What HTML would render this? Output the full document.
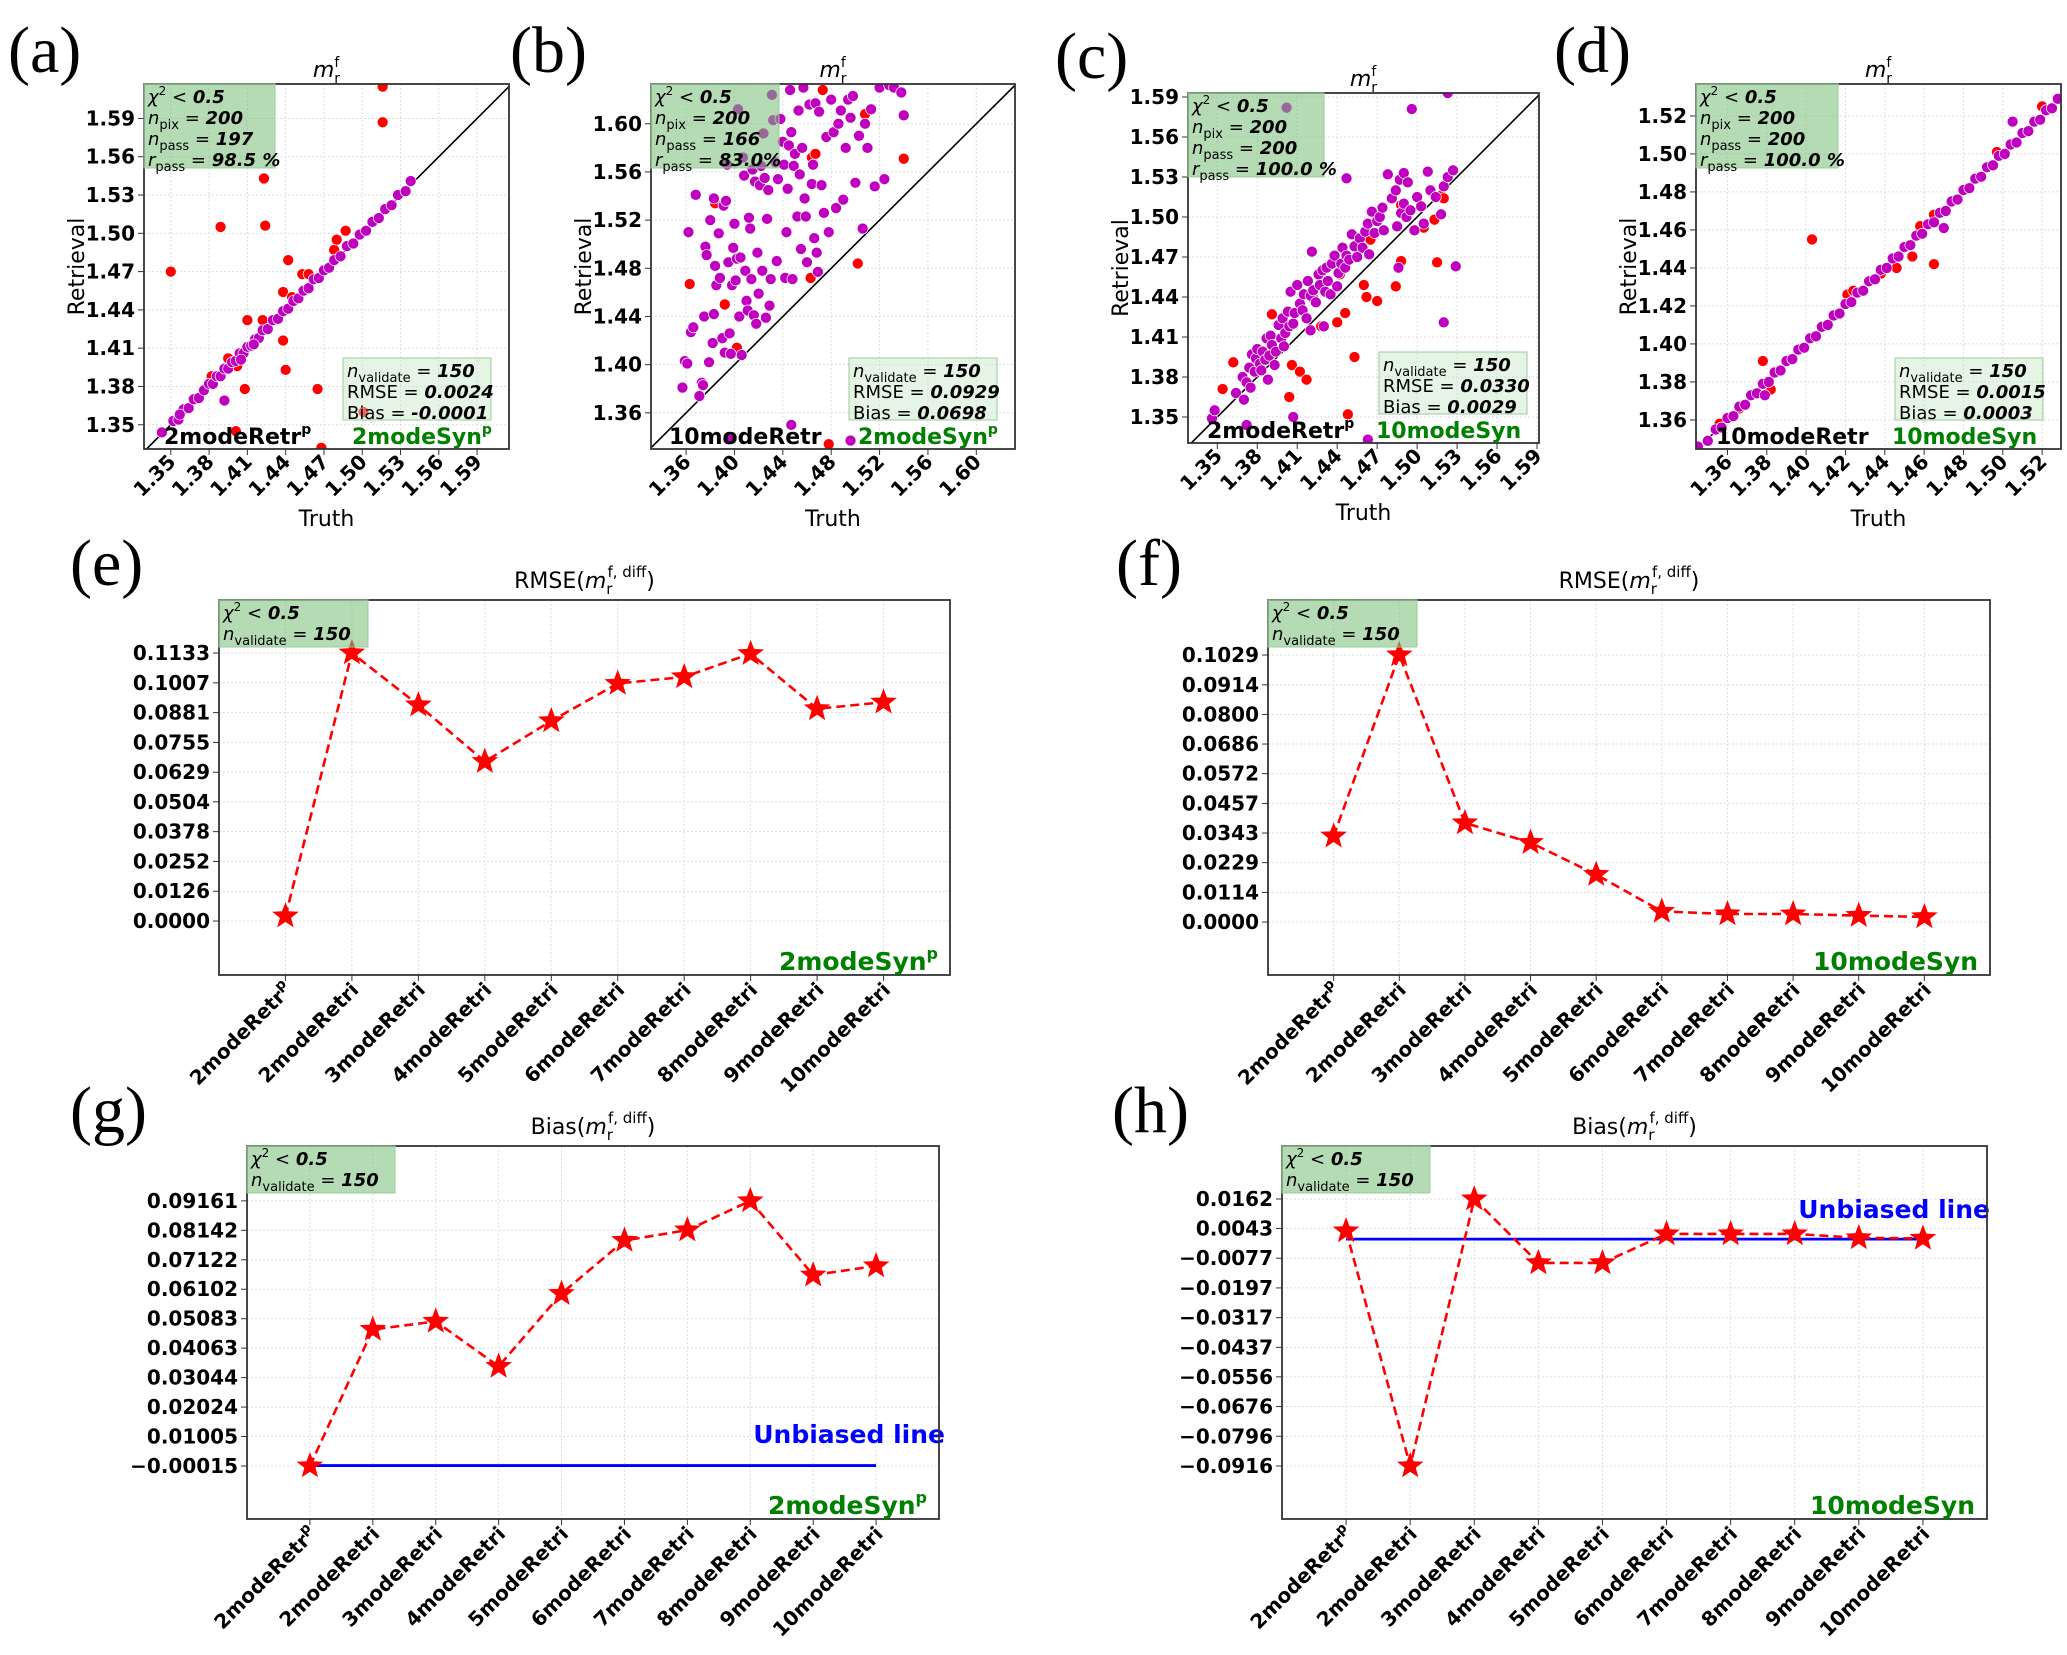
<!DOCTYPE html>
<html><head><meta charset="utf-8"><style>
html,body{margin:0;padding:0;background:#fff}
svg{display:block;font-family:"DejaVu Sans","Liberation Sans",sans-serif}
.tk{font-weight:bold;font-size:20px}
.cat{font-weight:bold;font-size:20px}
.lab{font-size:22px}
.pl{font-family:"Liberation Serif","DejaVu Serif",serif;font-size:66px}
.box{font-size:18px}
</style></head><body>
<svg id="fig" width="2067" height="1655" viewBox="0 0 2067 1655" xmlns="http://www.w3.org/2000/svg"></svg>
<script>
// ---------- scatter data ----------
const aPurpleTruth=[1.343,1.352,1.356,1.360,1.364,1.368,1.372,1.376,1.380,1.383,1.386,1.389,1.392,1.395,1.398,1.401,1.404,1.407,1.410,1.413,1.416,1.419,1.422,1.426,1.430,1.434,1.438,1.442,1.446,1.450,1.454,1.458,1.462,1.466,1.470,1.474,1.478,1.483,1.488,1.493,1.498,1.503,1.508,1.513,1.518,1.523,1.528,1.534,1.538,1.392,1.357,1.405,1.415];
const aPurpleRetr=[1.344,1.353,1.354,1.362,1.363,1.370,1.371,1.377,1.382,1.382,1.388,1.388,1.394,1.394,1.399,1.400,1.406,1.406,1.411,1.412,1.417,1.418,1.424,1.425,1.432,1.433,1.439,1.441,1.447,1.449,1.455,1.457,1.464,1.465,1.471,1.473,1.479,1.482,1.490,1.492,1.499,1.502,1.509,1.512,1.519,1.522,1.530,1.533,1.541,1.369,1.358,1.401,1.413];
const aRedTruth=[1.350,1.516,1.516,1.423,1.389,1.424,1.442,1.410,1.438,1.440,1.408,1.465,1.501,1.401,1.402,1.453,1.458,1.468,1.438,1.478,1.480,1.487,1.445,1.360,1.422,1.382,1.395];
const aRedRetr=[1.470,1.587,1.615,1.543,1.505,1.506,1.479,1.432,1.416,1.393,1.378,1.378,1.360,1.345,1.396,1.468,1.468,1.332,1.454,1.487,1.495,1.502,1.450,1.362,1.432,1.388,1.402];

const bPurpleTruth=[1.357,1.359,1.361,1.362,1.364,1.366,1.368,1.371,1.373,1.374,1.375,1.376,1.377,1.379,1.380,1.382,1.383,1.383,1.384,1.385,1.387,1.388,1.390,1.391,1.392,1.393,1.394,1.395,1.396,1.397,1.398,1.399,1.400,1.401,1.402,1.403,1.404,1.405,1.406,1.407,1.408,1.409,1.410,1.411,1.412,1.413,1.414,1.415,1.416,1.417,1.418,1.419,1.420,1.421,1.422,1.423,1.424,1.425,1.426,1.427,1.428,1.429,1.430,1.431,1.432,1.434,1.435,1.436,1.438,1.440,1.441,1.442,1.443,1.444,1.445,1.446,1.447,1.448,1.449,1.450,1.452,1.453,1.454,1.455,1.456,1.457,1.458,1.459,1.460,1.462,1.464,1.465,1.466,1.467,1.468,1.469,1.470,1.472,1.474,1.476,1.478,1.480,1.482,1.484,1.486,1.488,1.490,1.492,1.494,1.496,1.498,1.500,1.503,1.506,1.508,1.510,1.513,1.516,1.520,1.524,1.528,1.532,1.538,1.540,1.447,1.395,1.496];
const bPurpleRetr=[1.381,1.403,1.401,1.510,1.427,1.431,1.541,1.374,1.385,1.383,1.440,1.498,1.491,1.402,1.520,1.418,1.442,1.538,1.482,1.466,1.509,1.472,1.422,1.532,1.410,1.536,1.566,1.485,1.426,1.409,1.466,1.497,1.517,1.470,1.488,1.612,1.440,1.489,1.408,1.572,1.557,1.478,1.453,1.445,1.522,1.513,1.471,1.562,1.441,1.552,1.434,1.493,1.459,1.549,1.565,1.478,1.592,1.555,1.439,1.521,1.545,1.449,1.471,1.624,1.603,1.568,1.486,1.554,1.604,1.585,1.566,1.472,1.510,1.546,1.582,1.628,1.593,1.471,1.565,1.575,1.523,1.611,1.558,1.496,1.580,1.630,1.538,1.523,1.485,1.616,1.550,1.566,1.505,1.617,1.493,1.477,1.610,1.549,1.526,1.589,1.510,1.620,1.593,1.530,1.600,1.611,1.537,1.580,1.620,1.605,1.623,1.551,1.590,1.513,1.600,1.580,1.612,1.548,1.630,1.554,1.632,1.630,1.626,1.607,1.350,1.338,1.337];
const bRedTruth=[1.363,1.384,1.392,1.402,1.464,1.467,1.463,1.502,1.508,1.540,1.473,1.478];
const bRedRetr=[1.467,1.534,1.450,1.414,1.572,1.575,1.472,1.484,1.608,1.571,1.628,1.334];

const cPurpleTruth=[1.346,1.348,1.364,1.369,1.370,1.372,1.374,1.375,1.376,1.378,1.379,1.380,1.382,1.383,1.384,1.386,1.387,1.388,1.389,1.390,1.391,1.393,1.394,1.396,1.398,1.399,1.400,1.401,1.403,1.404,1.405,1.407,1.408,1.410,1.412,1.414,1.415,1.417,1.418,1.420,1.421,1.422,1.424,1.426,1.427,1.429,1.431,1.432,1.433,1.435,1.436,1.438,1.440,1.441,1.443,1.444,1.446,1.447,1.449,1.451,1.453,1.455,1.457,1.459,1.461,1.463,1.464,1.466,1.468,1.470,1.472,1.474,1.475,1.478,1.481,1.484,1.487,1.486,1.490,1.493,1.485,1.488,1.490,1.492,1.495,1.498,1.500,1.503,1.505,1.508,1.510,1.514,1.518,1.520,1.523,1.527,1.529,1.520,1.496,1.402,1.523,1.447,1.407,1.372,1.463,1.420,1.430];
const cPurpleRetr=[1.349,1.355,1.368,1.380,1.363,1.376,1.387,1.372,1.397,1.384,1.394,1.401,1.390,1.385,1.399,1.393,1.409,1.378,1.396,1.411,1.404,1.389,1.399,1.419,1.409,1.424,1.403,1.413,1.429,1.418,1.444,1.420,1.428,1.449,1.435,1.430,1.442,1.424,1.452,1.441,1.474,1.445,1.436,1.457,1.449,1.460,1.444,1.462,1.452,1.442,1.465,1.471,1.448,1.458,1.465,1.477,1.462,1.471,1.468,1.487,1.478,1.470,1.484,1.477,1.489,1.495,1.472,1.504,1.488,1.497,1.500,1.507,1.490,1.532,1.514,1.520,1.528,1.462,1.533,1.526,1.493,1.503,1.510,1.500,1.505,1.490,1.515,1.508,1.495,1.534,1.520,1.515,1.502,1.523,1.530,1.535,1.463,1.421,1.581,1.582,1.593,1.529,1.350,1.344,1.333,1.415,1.418];
const cRedTruth=[1.354,1.362,1.391,1.404,1.406,1.412,1.417,1.422,1.428,1.440,1.442,1.446,1.448,1.453,1.460,1.465,1.470,1.484,1.488,1.488,1.505,1.513,1.518,1.520,1.462,1.515];
const cRedRetr=[1.371,1.391,1.427,1.365,1.389,1.384,1.378,1.439,1.418,1.421,1.457,1.428,1.352,1.395,1.449,1.483,1.437,1.448,1.467,1.509,1.492,1.498,1.516,1.514,1.440,1.466];

const dPurpleTruth=[1.345,1.350,1.354,1.357,1.360,1.363,1.366,1.369,1.372,1.375,1.378,1.381,1.384,1.387,1.390,1.393,1.396,1.399,1.402,1.405,1.408,1.411,1.414,1.417,1.420,1.423,1.426,1.429,1.432,1.435,1.438,1.441,1.444,1.447,1.450,1.453,1.456,1.459,1.462,1.465,1.468,1.471,1.474,1.477,1.480,1.483,1.486,1.489,1.492,1.495,1.498,1.501,1.504,1.507,1.510,1.513,1.516,1.519,1.522,1.525,1.528,1.379,1.470,1.505];
const dPurpleRetr=[1.346,1.349,1.355,1.356,1.361,1.362,1.367,1.368,1.373,1.374,1.379,1.380,1.385,1.386,1.391,1.392,1.397,1.398,1.403,1.404,1.409,1.410,1.415,1.416,1.421,1.422,1.427,1.428,1.433,1.434,1.439,1.440,1.445,1.446,1.451,1.452,1.457,1.458,1.463,1.464,1.469,1.470,1.475,1.476,1.481,1.482,1.487,1.488,1.493,1.494,1.499,1.500,1.505,1.506,1.511,1.512,1.517,1.518,1.523,1.524,1.529,1.373,1.461,1.517];
const dRedTruth=[1.403,1.465,1.378,1.382,1.465,1.458,1.356,1.366,1.421,1.424,1.438,1.446,1.454,1.497,1.520,1.405];
const dRedRetr=[1.455,1.442,1.391,1.376,1.468,1.462,1.358,1.366,1.426,1.428,1.437,1.440,1.446,1.501,1.525,1.404];

const ticksAC=["1.35","1.38","1.41","1.44","1.47","1.50","1.53","1.56","1.59"];
const ticksB=["1.36","1.40","1.44","1.48","1.52","1.56","1.60"];
const ticksD=["1.36","1.38","1.40","1.42","1.44","1.46","1.48","1.50","1.52"];

// ---------- line chart data ----------
const categories=["2modeRetr^p","2modeRetri","3modeRetri","4modeRetri","5modeRetri","6modeRetri","7modeRetri","8modeRetri","9modeRetri","10modeRetri"];
const rmseE=[0.0021,0.1133,0.0913,0.0674,0.0846,0.1004,0.1032,0.1130,0.0897,0.0925];
const rmseF=[0.0331,0.1029,0.0382,0.0306,0.0183,0.0041,0.0031,0.0031,0.0025,0.0020];
const biasG=[-0.00015,0.0471,0.0499,0.0343,0.0595,0.0779,0.0815,0.0916,0.0659,0.0691];
const biasH=[0.0033,-0.0916,0.0162,-0.0096,-0.0096,0.0021,0.0021,0.0021,0.0005,0.0003];
const ticksE=["0.0000","0.0126","0.0252","0.0378","0.0504","0.0629","0.0755","0.0881","0.1007","0.1133"];
const ticksF=["0.0000","0.0114","0.0229","0.0343","0.0457","0.0572","0.0686","0.0800","0.0914","0.1029"];
const ticksG=["-0.00015","0.01005","0.02024","0.03044","0.04063","0.05083","0.06102","0.07122","0.08142","0.09161"];
const ticksH=["-0.0916","-0.0796","-0.0676","-0.0556","-0.0437","-0.0317","-0.0197","-0.0077","0.0043","0.0162"];
const unbiased=0;

const NS="http://www.w3.org/2000/svg";
const svg=document.getElementById('fig');
function el(tag,attrs,parent,txt){const e=document.createElementNS(NS,tag);for(const k in attrs)e.setAttribute(k,attrs[k]);if(txt!==undefined)e.innerHTML=txt;(parent||svg).appendChild(e);return e;}
function lin(d0,d1,r0,r1){return v=>r0+(v-d0)/(d1-d0)*(r1-r0);}

function panelLabel(t,x,y,name){const e=el('text',{x:x,y:y,class:'pl'},svg,t);

}

function frame(g,c){const r=el('rect',{x:c.x0,y:c.y0,width:c.x1-c.x0,height:c.y1-c.y0,fill:'none',stroke:'#333','stroke-width':1.8},g);

}

function infoBox(g,x,y,w,h,fill,lines,name){
 const b=el('rect',{x:x,y:y,width:w,height:h,fill:fill,stroke:'#9c9','stroke-width':1},g);
 
 
 lines.forEach((l,i)=>{const t=el('text',{x:x+4,y:y+19+i*21,class:'box'},g,l);
 
 });
}
const V=v=>`<tspan font-weight="bold" font-style="italic">${v}</tspan>`;
const SUB=s=>`<tspan font-size="13" dy="5">${s}</tspan><tspan dy="-5"> </tspan>`;
const CHI=`<tspan font-style="italic">χ</tspan><tspan font-size="12" dy="-8">2</tspan><tspan dy="8"> &lt; </tspan>`;

function scatter(c){
 const g=el('g',{},svg);
 
 
 const X=lin(c.xd[0],c.xd[1],c.x0,c.x1), Y=lin(c.yd[0],c.yd[1],c.y1,c.y0);
 const clip=el('clipPath',{id:'cl'+c.name},g);el('rect',{x:c.x0,y:c.y0,width:c.x1-c.x0,height:c.y1-c.y0},clip);
 c.ticks.forEach(t=>{const v=parseFloat(t);
  const gx=el('line',{x1:X(v),x2:X(v),y1:c.y0,y2:c.y1,stroke:'#ddd','stroke-dasharray':'2,2'},g);
  
  if(Y(v)>=c.y0&&Y(v)<=c.y1){const gy=el('line',{x1:c.x0,x2:c.x1,y1:Y(v),y2:Y(v),stroke:'#ddd','stroke-dasharray':'2,2'},g);
  
  el('line',{x1:c.x0-6,x2:c.x0,y1:Y(v),y2:Y(v),stroke:'#333'},g);
  const yl=el('text',{x:c.x0-9,y:Y(v)+7,'text-anchor':'end',class:'tk'},g,t);
  }
  el('line',{x1:X(v),x2:X(v),y1:c.y1,y2:c.y1+6,stroke:'#333'},g);
  const xl=el('text',{x:0,y:0,'text-anchor':'end',class:'tk',transform:`translate(${X(v)+6},${c.y1+14}) rotate(-45)`},g,t);
  
 });
 const pg=el('g',{'clip-path':`url(#cl${c.name})`},g);
 const lo=Math.max(c.xd[0],c.yd[0]),hi=Math.min(c.xd[1],c.yd[1]);
 const dl=el('line',{x1:X(lo),y1:Y(lo),x2:X(hi),y2:Y(hi),stroke:'#000','stroke-width':1.6},pg);
 
 c.rt.forEach((t,i)=>{const p=el('circle',{cx:X(t),cy:Y(c.rr[i]),r:5.5,fill:'#ff0000',stroke:'#fff','stroke-width':0.7},pg);
  });
 c.pt.forEach((t,i)=>{const p=el('circle',{cx:X(t),cy:Y(c.pr[i]),r:5.5,fill:'#bf00bf',stroke:'#fff','stroke-width':0.7},pg);
  });
 frame(g,c);
 const tt=el('text',{x:(c.x0+c.x1)/2,y:c.y0-7,'text-anchor':'middle',class:'lab'},g,`<tspan font-style="italic">m</tspan><tspan font-size="14" dy="-10">f</tspan><tspan font-size="14" dx="-5" dy="16">r</tspan>`);
 
 const yl=el('text',{x:0,y:0,'text-anchor':'middle',class:'lab',transform:`translate(${c.x0-60},${(c.y0+c.y1)/2}) rotate(-90)`},g,'Retrieval');
 
 const xl=el('text',{x:(c.x0+c.x1)/2,y:c.y1+77,'text-anchor':'middle',class:'lab'},g,'Truth');
 
 infoBox(g,c.x0,c.y0,c.bw,84,'rgba(120,190,120,0.55)',[CHI+V('0.5'),`<tspan font-style="italic">n</tspan>${SUB('pix')}= `+V('200'),`<tspan font-style="italic">n</tspan>${SUB('pass')}= `+V(c.npass),`<tspan font-style="italic">r</tspan>${SUB('pass')}= `+V(c.rpass)],'stats-box');
 infoBox(g,c.bx,c.y1-91,148,62,'rgba(200,230,200,0.45)',[`<tspan font-style="italic">n</tspan>${SUB('validate')}= `+V('150'),'RMSE = '+V(c.rmse),'Bias = '+V(c.bias)],'metrics-box');
 const l1=el('text',{x:c.x0+c.l1x,y:c.y1-5,'font-weight':'bold','font-size':22},g,c.l1);
 
 const l2=el('text',{x:c.x0+c.l2x,y:c.y1-5,'font-weight':'bold','font-size':22,fill:'#008000'},g,c.l2);
 
}
const SUPP='<tspan font-size="14" dy="-10">p</tspan>';
scatter({name:'panel-a',x0:144,x1:509,y0:84,y1:449,xd:[1.329,1.615],yd:[1.331,1.617],ticks:ticksAC,pt:aPurpleTruth,pr:aPurpleRetr,rt:aRedTruth,rr:aRedRetr,bw:131,npass:'197',rpass:'98.5 %',bx:343,rmse:'0.0024',bias:'-0.0001',l1:'2modeRetr'+SUPP,l1x:20,l2:'2modeSyn'+SUPP,l2x:208});
scatter({name:'panel-b',x0:651,x1:1015,y0:84,y1:449,xd:[1.331,1.632],yd:[1.330,1.633],ticks:ticksB,pt:bPurpleTruth,pr:bPurpleRetr,rt:bRedTruth,rr:bRedRetr,bw:128,npass:'166',rpass:'83.0%',bx:849,rmse:'0.0929',bias:'0.0698',l1:'10modeRetr',l1x:18,l2:'2modeSyn'+SUPP,l2x:207});
scatter({name:'panel-c',x0:1188,x1:1539,y0:93,y1:443,xd:[1.328,1.5915],yd:[1.3305,1.593],ticks:ticksAC,pt:cPurpleTruth,pr:cPurpleRetr,rt:cRedTruth,rr:cRedRetr,bw:136,npass:'200',rpass:'100.0 %',bx:1379,rmse:'0.0330',bias:'0.0029',l1:'2modeRetr'+SUPP,l1x:19,l2:'10modeSyn',l2x:188});
scatter({name:'panel-d',x0:1696,x1:2061,y0:84,y1:449,xd:[1.344,1.5296],yd:[1.3447,1.5368],ticks:ticksD,pt:dPurpleTruth,pr:dPurpleRetr,rt:dRedTruth,rr:dRedRetr,bw:142,npass:'200',rpass:'100.0 %',bx:1895,rmse:'0.0015',bias:'0.0003',l1:'10modeRetr',l1x:20,l2:'10modeSyn',l2x:196});

function starPath(cx,cy,R){let d='';for(let i=0;i<10;i++){const r=i%2?R*0.42:R;const a=-Math.PI/2+i*Math.PI/5;d+=(i?'L':'M')+(cx+r*Math.cos(a)).toFixed(1)+','+(cy+r*Math.sin(a)).toFixed(1);}return d+'Z';}

function lineChart(c){
 const g=el('g',{},svg);
 
 
 const X=lin(-1,10,c.x0,c.x1),Y=lin(c.yd[0],c.yd[1],c.y1,c.y0);
 categories.forEach((cat,i)=>{
  const gl=el('line',{x1:X(i),x2:X(i),y1:c.y0,y2:c.y1,stroke:'#ddd','stroke-dasharray':'2,2'},g);
  
  el('line',{x1:X(i),x2:X(i),y1:c.y1,y2:c.y1+6,stroke:'#333'},g);
  const lbl=cat.replace('^p','<tspan font-size="14" dy="-9">p</tspan>');
  const t=el('text',{x:0,y:0,'text-anchor':'end',class:'cat',transform:`translate(${X(i)+8},${c.y1+16}) rotate(-45)`},g,lbl);
  
 });
 c.ticks.forEach(t=>{const v=parseFloat(t);
  const gl=el('line',{x1:c.x0,x2:c.x1,y1:Y(v),y2:Y(v),stroke:'#ddd','stroke-dasharray':'2,2'},g);
  
  el('line',{x1:c.x0-6,x2:c.x0,y1:Y(v),y2:Y(v),stroke:'#333'},g);
  const tl=el('text',{x:c.x0-9,y:Y(v)+7,'text-anchor':'end',class:'tk'},g,t.replace('-','−'));
  
 });
 if(c.unb){const u=el('line',{x1:X(0),x2:X(9),y1:Y(unbiased),y2:Y(unbiased),stroke:'#0000ff','stroke-width':2.8},g);
  
  const ut=el('text',{x:c.ux,y:c.uy,'text-anchor':'end','font-weight':'bold','font-size':25,fill:'#0000ff'},g,'Unbiased line');
  }
 const pts=c.vals.map((v,i)=>X(i).toFixed(1)+','+Y(v).toFixed(1)).join(' ');
 const pl=el('polyline',{points:pts,fill:'none',stroke:'#ff0000','stroke-width':2.6,'stroke-dasharray':'9,5'},g);
 
 c.vals.forEach((v,i)=>{const s=el('path',{d:starPath(X(i),Y(v),14),fill:'#ff0000'},g);
  });
 frame(g,c);
 const tt=el('text',{x:(c.x0+c.x1)/2,y:c.y0-12,'text-anchor':'middle',class:'lab'},g,`${c.title}(<tspan font-style="italic">m</tspan><tspan font-size="15" dy="6">r</tspan><tspan font-size="15" dx="-5" dy="-17">f, diff</tspan><tspan dy="11">)</tspan>`);
 
 infoBox(g,c.x0,c.y0,c.bw,47,'rgba(120,190,120,0.55)',[CHI+V('0.5'),`<tspan font-style="italic">n</tspan>${SUB('validate')}= `+V('150')],'stats-box');
 const gl=el('text',{x:c.x1-12,y:c.y1-5,'text-anchor':'end','font-weight':'bold','font-size':25,fill:'#008000'},g,c.syn);
 
}
lineChart({name:'panel-e',x0:219,x1:950,y0:600,y1:975,yd:[-0.0228,0.1357],ticks:ticksE,vals:rmseE,title:'RMSE',bw:149,syn:'2modeSyn<tspan font-size="16" dy="-11">p</tspan>'});
lineChart({name:'panel-f',x0:1268,x1:1990,y0:600,y1:975,yd:[-0.0204,0.1241],ticks:ticksF,vals:rmseF,title:'RMSE',bw:149,syn:'10modeSyn'});
lineChart({name:'panel-g',x0:247,x1:939,y0:1146,y1:1519,yd:[-0.0185,0.1106],ticks:ticksG,vals:biasG,title:'Bias',bw:148,syn:'2modeSyn<tspan font-size="16" dy="-11">p</tspan>',unb:true,ux:945,uy:1443});
lineChart({name:'panel-h',x0:1282,x1:1987,y0:1146,y1:1519,yd:[-0.1130,0.0376],ticks:ticksH,vals:biasH,title:'Bias',bw:148,syn:'10modeSyn',unb:true,ux:1990,uy:1218});

panelLabel('(a)',8,72,'panel-label-a');
panelLabel('(b)',510,72,'panel-label-b');
panelLabel('(c)',1055,78,'panel-label-c');
panelLabel('(d)',1554,72,'panel-label-d');
panelLabel('(e)',70,585,'panel-label-e');
panelLabel('(f)',1116,585,'panel-label-f');
panelLabel('(g)',70,1132,'panel-label-g');
panelLabel('(h)',1112,1132,'panel-label-h');
</script>
</body></html>
